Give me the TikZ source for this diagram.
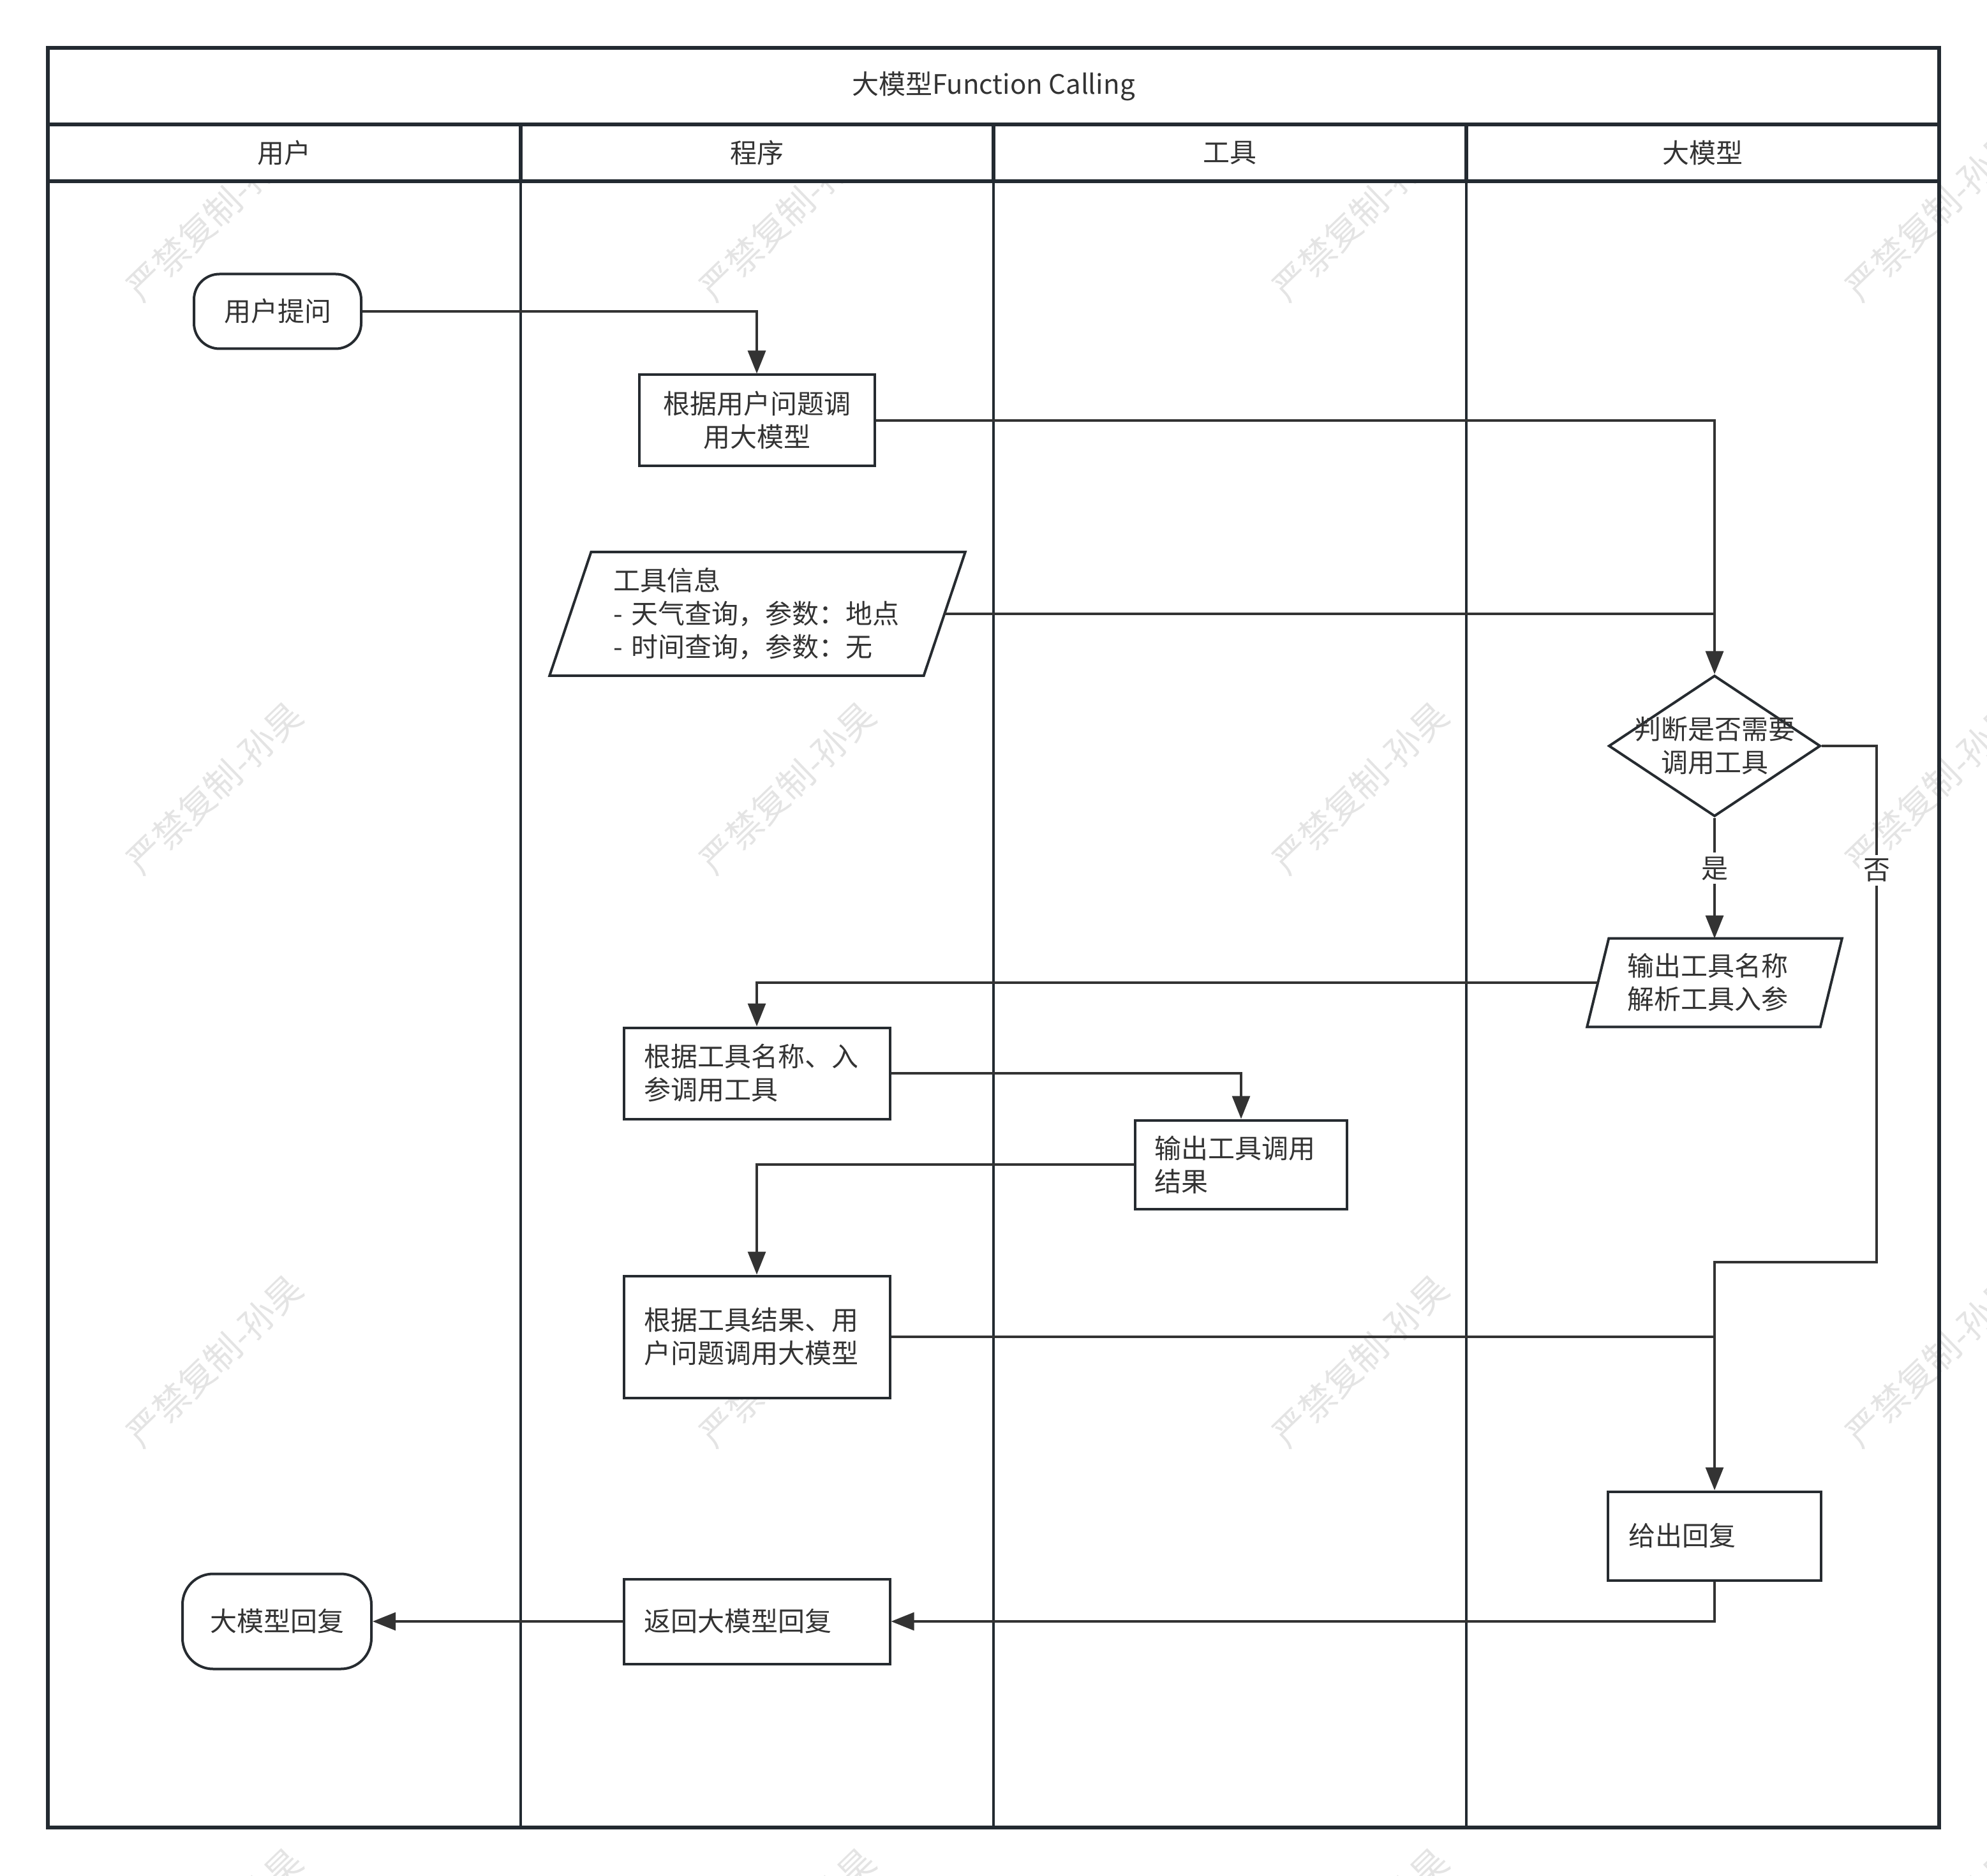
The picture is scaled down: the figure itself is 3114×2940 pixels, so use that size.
\documentclass[tikz,border=0pt]{standalone}
\usepackage{fontspec}
\setmainfont{Noto Sans CJK SC}
\usetikzlibrary{shapes.geometric,arrows.meta}
\definecolor{framec}{HTML}{232A31}
\definecolor{boxc}{HTML}{262B30}
\definecolor{linec}{HTML}{333333}
\definecolor{txtc}{HTML}{333333}
\definecolor{wmc}{HTML}{E4E4E4}
\pgfdeclarelayer{wm}
\pgfdeclarelayer{shp}
\pgfsetlayers{wm,shp,main}
\begin{document}
\begin{tikzpicture}[x=0.25pt,y=-0.25pt,
  every node/.style={text=txtc, font=\fontsize{10.5pt}{13pt}\selectfont},
  frameline/.style={draw=framec, line width=1.5pt},
  laneline/.style={draw=framec, line width=1.1pt},
  headcell/.style={draw=framec, line width=1.3pt, fill=white, minimum width=185.25pt, minimum height=22.25pt, inner sep=0pt},
  procbox/.style={draw=boxc, line width=1pt, fill=white, inner xsep=8pt, inner ysep=0pt, align=left},
  termbox/.style={draw=boxc, line width=1pt, fill=white, inner sep=0pt, align=center},
  paratext/.style={inner ysep=0pt, align=left},
  parashape/.style={draw=boxc, line width=1pt, fill=white},
  conn/.style={draw=linec, line width=0.8pt},
  arr/.style={conn, -{Triangle[length=9pt,width=7pt]}},
  lbl/.style={fill=white, inner sep=1.5pt},
  wmark/.style={text=wmc, font=\fontsize{14pt}{14pt}\selectfont, rotate=44, inner sep=0pt}
]
\useasboundingbox (0,0) rectangle (3114,2940);

% watermarks
\begin{pgfonlayer}{wm}
  \begin{scope}
    \clip (0,0) rectangle (3114,2940);
    \foreach \wx in {336,1234,2132,3030} {
      \foreach \wy in {337,1235,2133,3031} {
        \node[wmark] (wm-\wx-\wy) at (\wx,\wy) {严禁复制-孙昊};
      }
    }
  \end{scope}
\end{pgfonlayer}

% swimlane frame
\node[headcell, minimum width=741pt, minimum height=30pt] (title) at (1557,135) {大模型Function Calling};
\node[headcell] (h1) at (445.5,239.5) {用户};
\node[headcell] (h2) at (1186.5,239.5) {程序};
\node[headcell] (h3) at (1927.5,239.5) {工具};
\node[headcell] (h4) at (2668.5,239.5) {大模型};
\foreach \lx in {816,1557,2298} {
  \draw[laneline] (\lx,284) -- (\lx,2864);
}
\draw[frameline] (75,75) rectangle (3039,2864);

% nodes
\node[termbox, rounded corners=10pt, minimum width=65.5pt, minimum height=29.25pt] (q) at (435,488) {用户提问};
\node[procbox, align=center, text width=76.25pt, minimum height=35.75pt] (a) at (1186,659) {根据用户问题调\\用大模型};

\node[paratext, inner xsep=16.6pt, text width=113pt, minimum height=48pt] (info) at (1187,962) {工具信息\\-~天气查询，参数：地点\\-~时间查询，参数：无};
\node[diamond, draw=boxc, line width=1pt, fill=white, minimum width=83pt, minimum height=55.25pt, inner sep=0pt,
      label={[align=center, inner sep=0pt]center:判断是否需要\\调用工具}] (dec) at (2687,1169) {};
\node[paratext, inner xsep=11.25pt, text width=68.5pt, minimum height=34.25pt] (out) at (2687,1540) {输出工具名称\\解析工具入参};

\begin{pgfonlayer}{shp}
  \draw[parashape] ([xshift=-8.125pt]info.south west) -- ([xshift=-8.125pt]info.south east)
     -- ([xshift=8.125pt]info.north east) -- ([xshift=8.125pt]info.north west) -- cycle;
  \draw[parashape] ([xshift=-4.25pt]out.south west) -- ([xshift=-4.25pt]out.south east)
     -- ([xshift=4.25pt]out.north east) -- ([xshift=4.25pt]out.north west) -- cycle;
\end{pgfonlayer}

\node[procbox, text width=88.25pt, minimum height=35.75pt] (b) at (1186,1682) {根据工具名称、入\\参调用工具};
\node[procbox, inner xsep=7.5pt, text width=68pt, minimum height=34.75pt] (c) at (1945,1825) {输出工具调用\\结果};
\node[procbox, text width=88.25pt, minimum height=47.75pt] (d) at (1186,2095) {根据工具结果、用\\户问题调用大模型};
\node[procbox, text width=67.5pt, minimum height=34.75pt] (e) at (2687,2407) {给出回复};
\node[procbox, text width=88.25pt, minimum height=33.25pt] (f) at (1186,2541) {返回大模型回复};
\node[termbox, rounded corners=12pt, minimum width=74pt, minimum height=37.25pt] (g) at (434,2541) {大模型回复};

% connectors
\draw[arr] (q.east) -| (a.north);
\draw[arr] (a.east) -| (dec.north);
\draw[conn] (info.east) -- (info.east -| dec.north);
\draw[arr] (dec.south) -- node[lbl, pos=0.42] (yes) {是} (out.north);
\coordinate (nojoin) at (2941,1978);
\draw[arr] (dec.east) -| (nojoin) -| (e.north);
\node[lbl] (no) at (2941,1364) {否};
\draw[arr] (out.west) -| (b.north);
\draw[arr] (b.east) -| (c.north);
\draw[arr] (c.west) -| (d.north);
\draw[conn] (d.east) -- (d.east -| e.north);
\draw[arr] (e.south) |- (f.east);
\draw[arr] (f.west) -- (g.east);
\end{tikzpicture}
\end{document}
